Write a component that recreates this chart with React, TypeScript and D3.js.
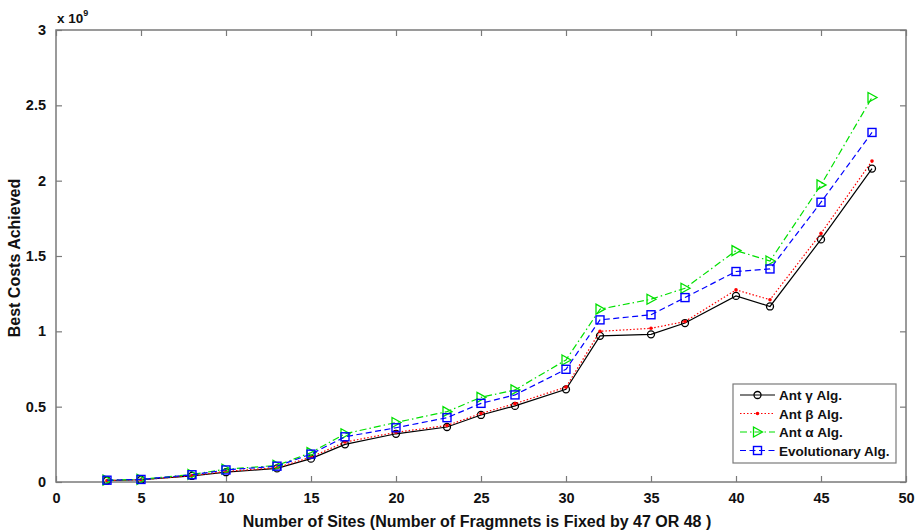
import React, { useRef, useEffect } from 'react';
import { select, scaleLinear, line, axisBottom, axisLeft, axisTop, axisRight } from 'd3';

const sites = [3, 5, 8, 10, 13, 15, 17, 20, 23, 25, 27, 30, 32, 35, 37, 40, 42, 45, 48];
// values in units of 1e9
const antGamma = [0.01, 0.015, 0.04, 0.065, 0.09, 0.155, 0.25, 0.32, 0.365, 0.445, 0.505, 0.615, 0.97, 0.98, 1.055, 1.235, 1.165, 1.61, 2.08];
const antBeta = [0.01, 0.015, 0.042, 0.07, 0.095, 0.165, 0.265, 0.33, 0.375, 0.455, 0.52, 0.63, 1.0, 1.02, 1.065, 1.275, 1.21, 1.65, 2.13];
const antAlpha = [0.012, 0.018, 0.05, 0.085, 0.11, 0.195, 0.32, 0.395, 0.467, 0.562, 0.611, 0.81, 1.147, 1.213, 1.286, 1.536, 1.467, 1.972, 2.552];
const evolutionary = [0.012, 0.017, 0.048, 0.08, 0.105, 0.185, 0.3, 0.36, 0.427, 0.522, 0.578, 0.748, 1.076, 1.11, 1.224, 1.397, 1.414, 1.857, 2.32];

const xTicks = [0, 5, 10, 15, 20, 25, 30, 35, 40, 45, 50];
const yTicks = [0, 0.5, 1, 1.5, 2, 2.5, 3];

const seriesNames = ['Ant γ Alg.', 'Ant β Alg.', 'Ant α Alg.', 'Evolutionary Alg.'];

const FONT = "'Liberation Sans', Arial, sans-serif";

const App = () => {
  const svgRef = useRef(null);

  useEffect(() => {
    const svg = select(svgRef.current);
    svg.selectAll('*').remove();

    const left = 56, right = 906, top = 30, bottom = 482;
    const x = scaleLinear().domain([0, 50]).range([left, right]);
    const y = scaleLinear().domain([0, 3]).range([bottom, top]);

    const series = [
      { name: seriesNames[0], values: antGamma, color: '#000000', dash: null, marker: 'circle' },
      { name: seriesNames[1], values: antBeta, color: '#ff0000', dash: '1.5,2', marker: 'dot' },
      { name: seriesNames[2], values: antAlpha, color: '#00e000', dash: '7,3,1.5,3', marker: 'triangle' },
      { name: seriesNames[3], values: evolutionary, color: '#0000ff', dash: '6,3.5', marker: 'square' },
    ];

    const frameColor = '#7a7a7a';

    // box
    svg.append('rect')
      .attr('x', left).attr('y', top)
      .attr('width', right - left).attr('height', bottom - top)
      .attr('fill', 'white').attr('stroke', frameColor).attr('stroke-width', 1.5);

    const styleAxis = (g, showText) => {
      g.select('.domain').remove();
      g.selectAll('line').attr('stroke', frameColor).attr('stroke-width', 1.2);
      g.selectAll('text')
        .attr('font-family', FONT)
        .attr('font-size', 14.5)
        .attr('font-weight', 'bold')
        .attr('fill', '#111')
        .style('display', showText ? null : 'none');
    };

    svg.append('g').attr('transform', `translate(0,${bottom})`)
      .call(axisBottom(x).tickValues(xTicks).tickSizeInner(-6).tickSizeOuter(0).tickPadding(11))
      .call((g) => styleAxis(g, true));
    svg.append('g').attr('transform', `translate(0,${top})`)
      .call(axisTop(x).tickValues(xTicks).tickSizeInner(-6).tickSizeOuter(0))
      .call((g) => styleAxis(g, false));
    svg.append('g').attr('transform', `translate(${left},0)`)
      .call(axisLeft(y).tickValues(yTicks).tickSizeInner(-6).tickSizeOuter(0).tickPadding(10).tickFormat((d) => String(d)))
      .call((g) => styleAxis(g, true));
    svg.append('g').attr('transform', `translate(${right},0)`)
      .call(axisRight(y).tickValues(yTicks).tickSizeInner(-6).tickSizeOuter(0))
      .call((g) => styleAxis(g, false));

    const drawMarker = (g, kind, cx, cy, color) => {
      if (kind === 'circle') {
        g.append('circle').attr('cx', cx).attr('cy', cy).attr('r', 3.5)
          .attr('fill', 'none').attr('stroke', color).attr('stroke-width', 1.3);
      } else if (kind === 'dot') {
        g.append('circle').attr('cx', cx).attr('cy', cy).attr('r', 1.8).attr('fill', color);
      } else if (kind === 'triangle') {
        const s = 5;
        g.append('path')
          .attr('d', `M${cx - s * 0.8},${cy - s} L${cx + s},${cy} L${cx - s * 0.8},${cy + s} Z`)
          .attr('fill', 'none').attr('stroke', color).attr('stroke-width', 1.3);
      } else {
        g.append('rect').attr('x', cx - 4).attr('y', cy - 4).attr('width', 8).attr('height', 8)
          .attr('fill', 'none').attr('stroke', color).attr('stroke-width', 1.4);
      }
    };

    const lineGen = line()
      .x((d) => x(d[0]))
      .y((d) => y(d[1]));

    series.forEach((s) => {
      const pts = sites.map((v, i) => [v, s.values[i]]);
      const g = svg.append('g');
      g.append('path')
        .datum(pts)
        // @ts-ignore
        .attr('d', lineGen)
        .attr('fill', 'none')
        .attr('stroke', s.color)
        .attr('stroke-width', 1.2)
        .attr('stroke-dasharray', s.dash);
      pts.forEach((p) => drawMarker(g, s.marker, x(p[0]), y(p[1]), s.color));
    });

    // exponent
    const ex = svg.append('text').attr('x', left + 1).attr('y', 23)
      .attr('font-family', FONT).attr('font-size', 13.5).attr('font-weight', 'bold').attr('fill', '#111');
    ex.append('tspan').text('x 10');
    ex.append('tspan').attr('dy', -7).attr('font-size', 9).text('9');

    // axis labels
    svg.append('text')
      .attr('x', (left + right) / 2 - 4).attr('y', 527)
      .attr('text-anchor', 'middle')
      .attr('font-family', FONT).attr('font-size', 16).attr('font-weight', 'bold').attr('fill', '#111')
      .text('Number of Sites (Number of Fragmnets is Fixed by 47 OR 48 )');
    svg.append('text')
      .attr('transform', `translate(20,${(top + bottom) / 2 + 2}) rotate(-90)`)
      .attr('text-anchor', 'middle')
      .attr('font-family', FONT).attr('font-size', 16).attr('font-weight', 'bold').attr('fill', '#111')
      .text('Best Costs Achieved');

    // legend
    const lg = svg.append('g');
    lg.append('rect').attr('x', 733).attr('y', 384).attr('width', 163).attr('height', 79)
      .attr('fill', 'white').attr('stroke', frameColor).attr('stroke-width', 1.2);
    series.forEach((s, i) => {
      const ly = 395 + i * 18.5;
      lg.append('line').attr('x1', 740).attr('x2', 775).attr('y1', ly).attr('y2', ly)
        .attr('stroke', s.color).attr('stroke-width', 1.2).attr('stroke-dasharray', s.dash);
      drawMarker(lg, s.marker, 757.5, ly, s.color);
      lg.append('text').attr('x', 779).attr('y', ly + 5)
        .attr('font-family', FONT).attr('font-size', 13.5).attr('font-weight', 'bold').attr('fill', '#111')
        .text(s.name);
    });
  }, []);

  return (
    <svg ref={svgRef} width={921} height={532} style={{ position: 'absolute', left: 0, top: 0 }} />
  );
};

export default App;
